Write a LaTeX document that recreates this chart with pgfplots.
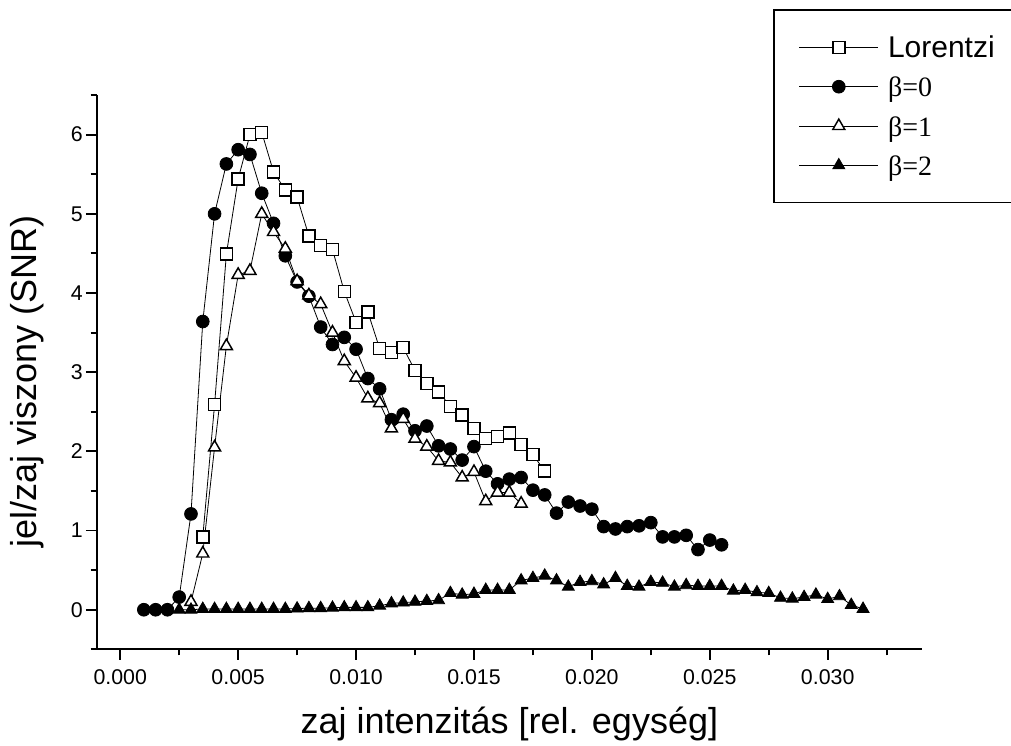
\documentclass[border=0pt]{standalone}
\usepackage{pgfplots}
\pgfplotsset{compat=1.18}
\usepackage{fontspec}
\setmainfont{Liberation Sans}
\newfontfamily\timesfont{Liberation Serif}

\begin{document}
\begin{tikzpicture}
\begin{axis}[
  at={(0,0)}, anchor=south west,
  scale only axis,
  width=619pt, height=415.7pt,
  xmin=-0.001, xmax=0.034,
  ymin=-0.5, ymax=6.5,
  axis x line*=bottom, axis y line*=left,
  axis line style={line width=1.4pt},
  xtick={0,0.005,0.01,0.015,0.02,0.025,0.03},
  xticklabels={0.000,0.005,0.010,0.015,0.020,0.025,0.030},
  minor xtick={0.0025,0.0075,0.0125,0.0175,0.0225,0.0275,0.0325},
  ytick={0,1,2,3,4,5,6},
  minor ytick={-0.5,0.5,1.5,2.5,3.5,4.5,5.5,6.5},
  scaled x ticks=false,
  tick align=outside,
  major tick length=8pt, minor tick length=4.5pt,
  tick style={line width=1.4pt, black},
  tick label style={font=\fontsize{16}{19}\selectfont},
  xticklabel style={yshift=-4pt},
  yticklabel style={xshift=1pt},
  /pgf/number format/assume math mode=true,
  xlabel={zaj intenzitás [rel. egység]},
  ylabel={jel/zaj viszony (SNR)},
  label style={font=\fontsize{27}{31}\selectfont},
  xlabel style={at={(axis description cs:0.5,0)}, anchor=base, yshift=-62.8pt},
  ylabel style={at={(axis description cs:0,0.5)}, anchor=base, yshift=44.8pt, xshift=-7pt},
  legend style={at={(0.8198,0.8046)}, anchor=south west, draw=black, line width=1pt,
    fill=white, inner xsep=18.75pt, inner ysep=20.5pt, row sep=14.5pt, column sep=7pt,
    font=\fontsize{21}{25}\selectfont,
    nodes={inner sep=0pt, text height=15pt, text depth=0pt}},
  legend cell align=left,
  legend image code/.code={\draw[mark repeat=2,mark phase=2] plot coordinates {(0pt,0pt) (29.6pt,0pt) (59.2pt,0pt)};},
]
% Lorentzi
\addplot[black, line width=0.6pt, mark=square*, mark size=4.5pt,
  mark options={solid, fill=white, line width=1.1pt}] table {
x y
0.0035 0.92
0.004 2.59
0.0045 4.49
0.005 5.44
0.0055 6.00
0.006 6.03
0.0065 5.53
0.007 5.30
0.0075 5.21
0.008 4.72
0.0085 4.60
0.009 4.55
0.0095 4.02
0.010 3.63
0.0105 3.76
0.011 3.30
0.0115 3.25
0.012 3.31
0.0125 3.02
0.013 2.86
0.0135 2.75
0.014 2.57
0.0145 2.46
0.015 2.29
0.0155 2.16
0.016 2.19
0.0165 2.23
0.017 2.09
0.0175 1.96
0.018 1.75
};
\addlegendentry{\fontsize{22.5}{25}\selectfont Lorentzi\hspace*{40pt}}
% beta=0
\addplot[black, line width=0.6pt, mark=*, mark size=4.8pt,
  mark options={solid, fill=black}] table {
x y
0.001 0
0.0015 0
0.002 0
0.0025 0.16
0.003 1.21
0.0035 3.64
0.004 5.00
0.0045 5.63
0.005 5.81
0.0055 5.75
0.006 5.26
0.0065 4.88
0.007 4.47
0.0075 4.14
0.008 3.96
0.0085 3.57
0.009 3.35
0.0095 3.44
0.010 3.29
0.0105 2.92
0.011 2.79
0.0115 2.40
0.012 2.47
0.0125 2.26
0.013 2.32
0.0135 2.07
0.014 2.03
0.0145 1.89
0.015 2.06
0.0155 1.75
0.016 1.59
0.0165 1.65
0.017 1.67
0.0175 1.51
0.018 1.45
0.0185 1.22
0.019 1.36
0.0195 1.31
0.020 1.27
0.0205 1.05
0.021 1.02
0.0215 1.05
0.022 1.06
0.0225 1.10
0.023 0.92
0.0235 0.92
0.024 0.94
0.0245 0.76
0.025 0.88
0.0255 0.82
};
\addlegendentry{\timesfont β=0}
% beta=1
\addplot[black, line width=0.6pt, mark=triangle*, mark size=5.2pt,
  mark options={solid, fill=white, line width=1.1pt}] table {
x y
0.003 0.10
0.0035 0.71
0.004 2.05
0.0045 3.33
0.005 4.23
0.0055 4.28
0.006 5.00
0.0065 4.77
0.007 4.56
0.0075 4.15
0.008 3.97
0.0085 3.86
0.009 3.50
0.0095 3.14
0.010 2.93
0.0105 2.67
0.011 2.61
0.0115 2.29
0.012 2.41
0.0125 2.16
0.013 2.06
0.0135 1.88
0.014 1.86
0.0145 1.67
0.015 1.74
0.0155 1.37
0.016 1.48
0.0165 1.48
0.017 1.34
};
\addlegendentry{\timesfont β=1}
% beta=2
\addplot[black, line width=0.6pt, mark=triangle*, mark size=5.2pt,
  mark options={solid, fill=black}] table {
x y
0.0025 0.0
0.003 0.0
0.0035 0.01
0.004 0.01
0.0045 0.01
0.005 0.01
0.0055 0.01
0.006 0.01
0.0065 0.01
0.007 0.01
0.0075 0.015
0.008 0.02
0.0085 0.02
0.009 0.025
0.0095 0.03
0.010 0.03
0.0105 0.03
0.011 0.05
0.0115 0.08
0.012 0.09
0.0125 0.10
0.013 0.11
0.0135 0.12
0.014 0.21
0.0145 0.19
0.015 0.20
0.0155 0.25
0.016 0.25
0.0165 0.25
0.017 0.37
0.0175 0.40
0.018 0.43
0.0185 0.37
0.019 0.29
0.0195 0.35
0.020 0.36
0.0205 0.32
0.021 0.40
0.0215 0.30
0.022 0.29
0.0225 0.35
0.023 0.34
0.0235 0.29
0.024 0.31
0.0245 0.30
0.025 0.30
0.0255 0.30
0.026 0.24
0.0265 0.25
0.027 0.22
0.0275 0.21
0.028 0.15
0.0285 0.14
0.029 0.16
0.0295 0.19
0.030 0.135
0.0305 0.17
0.031 0.06
0.0315 0.01
};
\addlegendentry{\timesfont β=2}
\end{axis}
\pgfresetboundingbox
\path[use as bounding box] (-72.5pt,-71.8pt) rectangle (685.75pt,487pt);
\end{tikzpicture}
\end{document}
